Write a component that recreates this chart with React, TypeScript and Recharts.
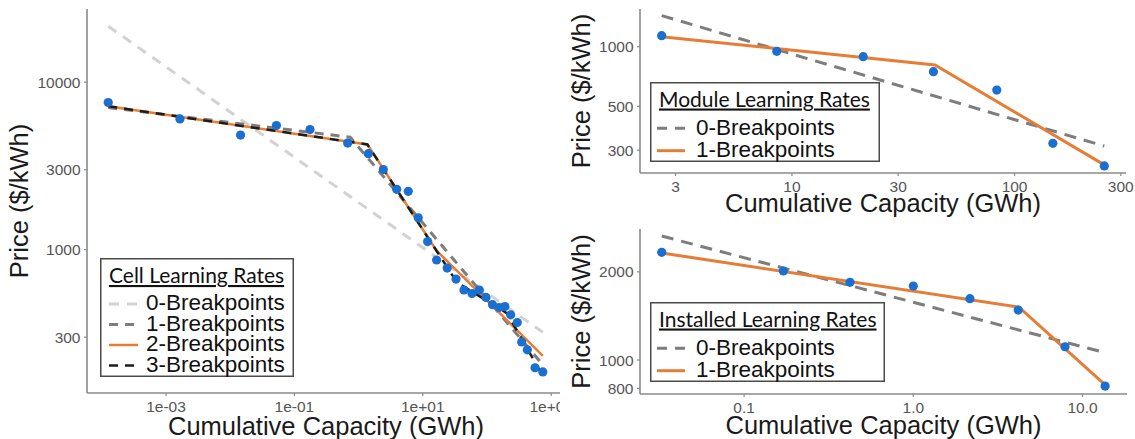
import React from 'react';
import { ComposedChart, Scatter, Line, XAxis, YAxis, Legend } from 'recharts';

// ---------------- Cell panel (left) ----------------
const cellCapacity = [1.26e-4, 1.65e-3, 0.0145, 0.0525, 0.175, 0.676, 1.42, 2.43, 3.92, 5.94, 8.5, 11.9, 16.4, 24, 32.9, 43.8, 58.4, 75.9, 96.4, 122, 155, 190, 234, 296, 347, 425, 560, 741];
const cellPrice = [7560, 6030, 4830, 5510, 5210, 4330, 3740, 3010, 2290, 2230, 1549, 1117, 867, 776, 667, 574, 547, 574, 518, 469, 451, 457, 408, 367, 281, 252, 197, 186];
const cellFit0Capacity = [1.26e-4, 741];
const cellFit0Price = [21600, 321];
const cellFit1Capacity = [1.26e-4, 0.74, 741];
const cellFit1Price = [7050, 4690, 205];
const cellFit2Capacity = [1.26e-4, 1.37, 16.4, 741];
const cellFit2Price = [7180, 4250, 986, 232];
const cellFit3Capacity = [1.26e-4, 1.37, 34.1, 206, 741];
const cellFit3Price = [7180, 4250, 638, 416, 176];
const cellXTicks = [0.001, 0.1, 10, 1000];
const cellXTickLabels = ['1e-03', '1e-01', '1e+01', '1e+03'];
const cellYTicks = [300, 1000, 3000, 10000];
const cellYTickLabels = ['300', '1000', '3000', '10000'];

// ---------------- Module panel (top right) ----------------
const moduleCapacity = [2.6, 8.55, 20.9, 43.2, 83.2, 148.6, 253];
const modulePrice = [1137, 948, 890, 748, 604, 325, 250];
const moduleFit0Capacity = [2.6, 253];
const moduleFit0Price = [1435, 315];
const moduleFit1Capacity = [2.6, 43.9, 253];
const moduleFit1Price = [1123, 809, 253];
const moduleXTicks = [3, 10, 30, 100, 300];
const moduleXTickLabels = ['3', '10', '30', '100', '300'];
const moduleYTicks = [300, 500, 1000];
const moduleYTickLabels = ['300', '500', '1000'];

// ---------------- Installed panel (bottom right) ----------------
const installedCapacity = [0.0326, 0.1706, 0.4226, 1.0, 2.16, 4.17, 7.88, 13.6];
const installedPrice = [2331, 2013, 1841, 1789, 1619, 1481, 1110, 815];
const installedFit0Capacity = [0.0326, 13.6];
const installedFit0Price = [2650, 1059];
const installedFit1Capacity = [0.0326, 4.21, 13.6];
const installedFit1Price = [2320, 1514, 822];
const installedXTicks = [0.1, 1, 10];
const installedXTickLabels = ['0.1', '1.0', '10.0'];
const installedYTicks = [800, 1000, 2000];
const installedYTickLabels = ['800', '1000', '2000'];

const toPts = (xs: number[], ys: number[]) => xs.map((x, i) => ({ x, y: ys[i] }));

const FONT = '"Liberation Sans", Arial, Helvetica, sans-serif';
const AXIS_GREY = '#8a8a8a';
const TICK_TEXT = '#555555';
const POINT_BLUE = '#1b6fd1';
const ORANGE = '#e57d37';
const MID_GREY = '#7d7d7d';
const LIGHT_GREY = '#d2d2d2';
const BLACK = '#1c1c1c';

type Fit = { name: string; data: { x: number; y: number }[]; stroke: string; dash?: string; width: number; keyDash?: string };

type LegendLayout = {
  title: string;
  left: number;
  top: number;
  width: number;
  height: number;
  titleY: number;
  keyX1: number;
  keyX2: number;
  textX: number;
  keyYs: number[];
  textYs: number[];
};

const LegendBox = ({ lay, fits }: { lay: LegendLayout; fits: Fit[] }) => (
  <svg width={lay.width} height={lay.height} style={{ display: 'block' }}>
    <rect x={0.75} y={0.75} width={lay.width - 1.5} height={lay.height - 1.5} fill="#ffffff" stroke="#4a4a4a" strokeWidth={1.5} />
    <text x={9} y={lay.titleY} fontFamily='Lato, "Open Sans", sans-serif' fontSize={21} fill="#111" textDecoration="underline">
      {lay.title}
    </text>
    {fits.map((f, i) => (
      <g key={f.name}>
        <line x1={lay.keyX1} x2={lay.keyX2} y1={lay.keyYs[i]} y2={lay.keyYs[i]} stroke={f.stroke} strokeWidth={f.width} strokeDasharray={f.keyDash || f.dash} />
        <text x={lay.textX} y={lay.textYs[i]} fontFamily={FONT} fontSize={22.5} fill="#111">
          {f.name}
        </text>
      </g>
    ))}
  </svg>
);

type PanelProps = {
  width: number;
  height: number;
  margin: { top: number; right: number; bottom: number; left: number };
  yAxisWidth: number;
  xAxisHeight: number;
  xDomain: [number, number];
  yDomain: [number, number];
  xTicks: number[];
  xTickLabels: string[];
  yTicks: number[];
  yTickLabels: string[];
  points: { x: number; y: number }[];
  fits: Fit[];
  legend: LegendLayout;
  xTitleOffset: number;
  yTitleOffset: number;
};

const Panel = (p: PanelProps) => (
  <ComposedChart width={p.width} height={p.height} margin={p.margin}>
    <XAxis
      dataKey="x"
      type="number"
      scale="log"
      domain={p.xDomain}
      allowDataOverflow
      ticks={p.xTicks}
      interval={0}
      tickFormatter={(v: number, i: number) => p.xTickLabels[i]}
      height={p.xAxisHeight}
      tickSize={3}
      tickMargin={4.5}
      axisLine={{ stroke: AXIS_GREY, strokeWidth: 1.6 }}
      tickLine={{ stroke: AXIS_GREY, strokeWidth: 1.2 }}
      tick={{ fill: TICK_TEXT, fontSize: 15.5, fontFamily: FONT }}
      label={{
        value: 'Cumulative Capacity (GWh)',
        position: 'insideBottom',
        offset: p.xTitleOffset,
        style: { fill: '#1a1a1a', fontSize: 25.5, fontFamily: FONT },
      }}
    />
    <YAxis
      dataKey="y"
      type="number"
      scale="log"
      domain={p.yDomain}
      allowDataOverflow
      ticks={p.yTicks}
      interval={0}
      tickFormatter={(v: number, i: number) => p.yTickLabels[i]}
      width={p.yAxisWidth}
      tickSize={3}
      tickMargin={3.5}
      axisLine={{ stroke: AXIS_GREY, strokeWidth: 1.6 }}
      tickLine={{ stroke: AXIS_GREY, strokeWidth: 1.2 }}
      tick={{ fill: TICK_TEXT, fontSize: 15.5, fontFamily: FONT }}
      label={{
        value: 'Price ($/kWh)',
        angle: -90,
        position: 'insideLeft',
        offset: p.yTitleOffset,
        style: { fill: '#1a1a1a', fontSize: 25.5, fontFamily: FONT, textAnchor: 'middle' },
      }}
    />
    <Scatter
      data={p.points}
      dataKey="y"
      isAnimationActive={false}
      legendType="none"
      shape={(s: any) => <circle cx={s.cx} cy={s.cy} r={4.6} fill={POINT_BLUE} />}
    />
    {p.fits.map((f) => (
      <Line
        key={f.name}
        name={f.name}
        data={f.data}
        dataKey="y"
        type="linear"
        stroke={f.stroke}
        strokeWidth={f.width}
        strokeDasharray={f.dash}
        dot={false}
        activeDot={false}
        isAnimationActive={false}
      />
    ))}
    <Legend
      layout="horizontal"
      align="center"
      verticalAlign="middle"
      wrapperStyle={{ left: p.legend.left, top: p.legend.top, width: p.legend.width, height: p.legend.height }}
      content={() => <LegendBox lay={p.legend} fits={p.fits} />}
    />
  </ComposedChart>
);

const cellFits: Fit[] = [
  { name: '0-Breakpoints', data: toPts(cellFit0Capacity, cellFit0Price), stroke: LIGHT_GREY, dash: '10 8', width: 3 },
  { name: '1-Breakpoints', data: toPts(cellFit1Capacity, cellFit1Price), stroke: MID_GREY, dash: '9 7', width: 3 },
  { name: '2-Breakpoints', data: toPts(cellFit2Capacity, cellFit2Price), stroke: ORANGE, width: 2.5 },
  { name: '3-Breakpoints', data: toPts(cellFit3Capacity, cellFit3Price), stroke: BLACK, dash: '9 7', width: 2.5 },
];

const moduleFits: Fit[] = [
  { name: '0-Breakpoints', data: toPts(moduleFit0Capacity, moduleFit0Price), stroke: MID_GREY, dash: '12 8', width: 3, keyDash: '10 8' },
  { name: '1-Breakpoints', data: toPts(moduleFit1Capacity, moduleFit1Price), stroke: ORANGE, width: 3 },
];

const installedFits: Fit[] = [
  { name: '0-Breakpoints', data: toPts(installedFit0Capacity, installedFit0Price), stroke: MID_GREY, dash: '12 8', width: 3, keyDash: '10 8' },
  { name: '1-Breakpoints', data: toPts(installedFit1Capacity, installedFit1Price), stroke: ORANGE, width: 3 },
];

const cellLegend: LegendLayout = {
  title: 'Cell Learning Rates', left: 100, top: 258, width: 194, height: 119,
  titleY: 25, keyX1: 9, keyX2: 38, textX: 46,
  keyYs: [46, 66.5, 87, 107.5], textYs: [52, 72.5, 93, 113.5],
};
const moduleLegend: LegendLayout = {
  title: 'Module Learning Rates', left: 90, top: 82, width: 230, height: 80,
  titleY: 24.5, keyX1: 7, keyX2: 35, textX: 46,
  keyYs: [46.3, 68.7], textYs: [53, 74.7],
};
const installedLegend: LegendLayout = {
  title: 'Installed Learning Rates', left: 90, top: 82, width: 235, height: 80,
  titleY: 24.5, keyX1: 7, keyX2: 35, textX: 46,
  keyYs: [46.3, 68.7], textYs: [53, 74.7],
};

export default function App() {
  return (
    <div style={{ position: 'absolute', left: 0, top: 0, width: 1135, height: 439, background: '#ffffff', overflow: 'hidden' }}>
      <div style={{ position: 'absolute', left: 0, top: 0, width: 560, height: 439, overflow: 'hidden' }}>
        <Panel
          width={600}
          height={439}
          margin={{ top: 9, right: 35, bottom: 0, left: 0 }}
          yAxisWidth={87}
          xAxisHeight={46}
          xDomain={[5.885e-5, 1641]}
          yDomain={[139.2, 27350]}
          xTicks={cellXTicks}
          xTickLabels={cellXTickLabels}
          yTicks={cellYTicks}
          yTickLabels={cellYTickLabels}
          points={toPts(cellCapacity, cellPrice)}
          fits={cellFits}
          legend={cellLegend}
          xTitleOffset={4}
          yTitleOffset={19}
        />
      </div>
      <div style={{ position: 'absolute', left: 560, top: 0, width: 575, height: 220 }}>
        <Panel
          width={575}
          height={220}
          margin={{ top: 9, right: 9, bottom: 0, left: 0 }}
          yAxisWidth={80}
          xAxisHeight={47}
          xDomain={[2.078, 316.6]}
          yDomain={[230.2, 1550]}
          xTicks={moduleXTicks}
          xTickLabels={moduleXTickLabels}
          yTicks={moduleYTicks}
          yTickLabels={moduleYTickLabels}
          points={toPts(moduleCapacity, modulePrice)}
          fits={moduleFits}
          legend={moduleLegend}
          xTitleOffset={8}
          yTitleOffset={21}
        />
      </div>
      <div style={{ position: 'absolute', left: 560, top: 220, width: 575, height: 219 }}>
        <Panel
          width={575}
          height={219}
          margin={{ top: 9, right: 8, bottom: 0, left: 0 }}
          yAxisWidth={80}
          xAxisHeight={45}
          xDomain={[0.02425, 18.32]}
          yDomain={[765.6, 2800]}
          xTicks={installedXTicks}
          xTickLabels={installedXTickLabels}
          yTicks={installedYTicks}
          yTickLabels={installedYTickLabels}
          points={toPts(installedCapacity, installedPrice)}
          fits={installedFits}
          legend={installedLegend}
          xTitleOffset={5}
          yTitleOffset={21}
        />
      </div>
    </div>
  );
}
